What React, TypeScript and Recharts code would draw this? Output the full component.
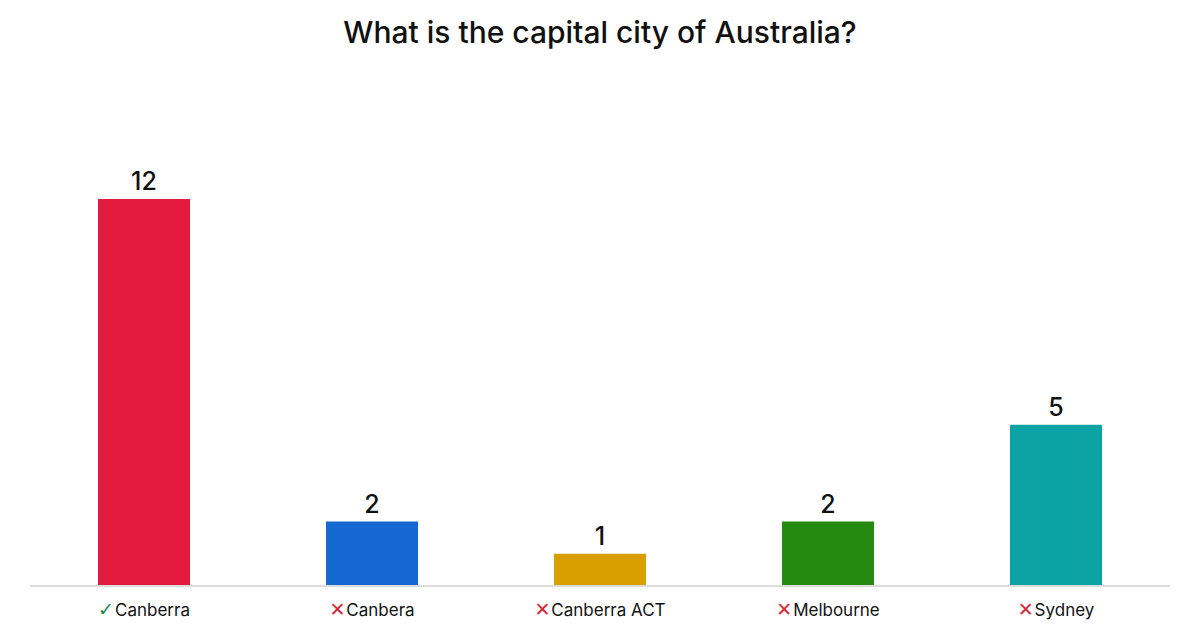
import React from 'react';
import { BarChart, Bar, XAxis, YAxis, Cell, LabelList } from 'recharts';

const answers = ['Canberra', 'Canbera', 'Canberra ACT', 'Melbourne', 'Sydney'];
const votes = [12, 2, 1, 2, 5];
const correct = [true, false, false, false, false];
const colors = ['#e31c3d', '#1567d2', '#d99f00', '#258b10', '#0ca3a4'];

const data = answers.map((name, i) => ({ name, votes: votes[i], correct: correct[i] }));

const FONT = 'Inter, "Noto Sans", sans-serif';

function AnswerTick(props: any) {
  const { x, y, payload, index } = props;
  const ok = correct[index];
  return (
    <text x={x} y={y + 22} textAnchor="middle" fontFamily={FONT} fontSize={17} fill="#111">
      <tspan fill={ok ? '#1f8a4c' : '#d9293b'} fontFamily='"DejaVu Sans", sans-serif' fontSize={19}>
        {ok ? '✓' : '✕'}
      </tspan>
      <tspan dx={1}>{payload.value}</tspan>
    </text>
  );
}

export default function App() {
  return (
    <div style={{ position: 'absolute', left: 0, top: 0, width: 1200, height: 633, background: '#fff' }}>
      <div
        style={{
          position: 'absolute',
          top: 14,
          width: 1200,
          textAlign: 'center',
          fontFamily: FONT,
          fontSize: 30,
          fontWeight: 500,
          color: '#111',
        }}
      >
        What is the capital city of Australia?
      </div>
      <BarChart width={1200} height={633} data={data} margin={{ top: 199, right: 30, left: 30, bottom: 0 }}>
        <XAxis
          dataKey="name"
          height={47}
          tickLine={false}
          axisLine={{ stroke: '#dcdcdc', strokeWidth: 2 }}
          tick={<AnswerTick />}
          interval={0}
        />
        <YAxis hide domain={[0, 12]} />
        <Bar dataKey="votes" barSize={92} isAnimationActive={false}>
          {data.map((d, i) => (
            <Cell key={d.name} fill={colors[i]} />
          ))}
          <LabelList dataKey="votes" position="top" offset={9} fontFamily={FONT} fontSize={25} fontWeight={500} fill="#111" />
        </Bar>
      </BarChart>
    </div>
  );
}
